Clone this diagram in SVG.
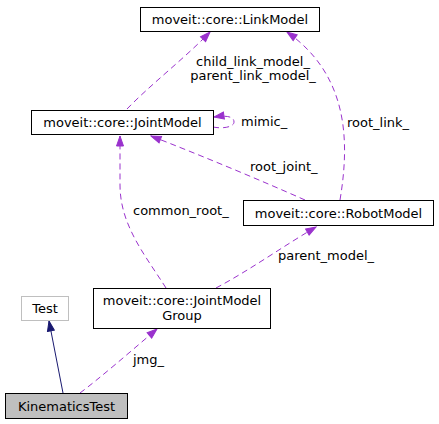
<svg xmlns="http://www.w3.org/2000/svg" width="439" height="424" viewBox="0 0 439 424">
<style>
  text { font-family: "DejaVu Sans", sans-serif; font-size: 13px; fill: #000; }
  .c { text-anchor: middle; }
  .box { fill: #fff; stroke: #000; stroke-width: 1; }
  .e { fill: none; stroke: #9a32cd; stroke-width: 1; stroke-dasharray: 6,4; }
  .inh { fill: none; stroke: #191970; stroke-width: 1; }
</style>
<defs>
  <marker id="ap" markerUnits="userSpaceOnUse" markerWidth="12" markerHeight="9" refX="11" refY="4.5" orient="auto">
    <path d="M1,1 L11,4.5 L1,8 z" fill="#9a32cd" stroke="#9a32cd" stroke-width="1"/>
  </marker>
  <marker id="an" markerUnits="userSpaceOnUse" markerWidth="12" markerHeight="9" refX="11" refY="4.5" orient="auto">
    <path d="M1,1 L11,4.5 L1,8 z" fill="#191970" stroke="#191970" stroke-width="1"/>
  </marker>
</defs>
<rect width="439" height="424" fill="#fff"/>
<g id="connectors">
  <path class="e" d="M127,109 C150,85 185,58 210,32" marker-end="url(#ap)"/>
  <text class="c" x="253" y="66">child_link_model_</text>
  <text class="c" x="253" y="80">parent_link_model_</text>
  <path class="e" d="M340,200 C350,140 348,75 287,32" marker-end="url(#ap)"/>
  <text x="347" y="127">root_link_</text>
  <path class="e" d="M213,127 C223,129 234,127 234,122 C234,117 228,115 214,117" marker-end="url(#ap)"/>
  <text x="241" y="126">mimic_</text>
  <path class="e" d="M305,200 C260,180 200,155 151,136" marker-end="url(#ap)"/>
  <text x="250" y="171">root_joint_</text>
  <path class="e" d="M166,288 C145,255 120,225 120,185 C120,165 120,148 120,136" marker-end="url(#ap)"/>
  <text x="133" y="215">common_root_</text>
  <path class="e" d="M216,288 C250,270 285,245 316,227" marker-end="url(#ap)"/>
  <text x="278" y="260">parent_model_</text>
  <path class="e" d="M80,393 C100,378 130,352 157,329" marker-end="url(#ap)"/>
  <text x="133" y="364">jmg_</text>
  <path class="inh" d="M63,393 L49,321" marker-end="url(#an)"/>
</g>
<g id="LinkModel">
  <rect class="box" x="140.5" y="7.5" width="179" height="24"/>
  <text class="c" x="230" y="24">moveit::core::LinkModel</text>
</g>
<g id="JointModel">
  <rect class="box" x="31.5" y="110.5" width="182" height="24"/>
  <text class="c" x="122.5" y="127">moveit::core::JointModel</text>
</g>
<g id="RobotModel">
  <rect class="box" x="243.5" y="200.5" width="190" height="25"/>
  <text class="c" x="338.5" y="217.5">moveit::core::RobotModel</text>
</g>
<g id="JointModelGroup">
  <rect class="box" x="93.5" y="288.5" width="177" height="40"/>
  <text class="c" x="182" y="305">moveit::core::JointModel</text>
  <text class="c" x="182" y="320">Group</text>
</g>
<g id="Test">
  <rect x="21.5" y="296.5" width="47" height="24" fill="#fff" stroke="#bfbfbf"/>
  <text class="c" x="45" y="313">Test</text>
</g>
<g id="KinematicsTest">
  <rect x="5.5" y="393.5" width="122" height="25" fill="#bfbfbf" stroke="#000"/>
  <text class="c" x="66.5" y="410.5">KinematicsTest</text>
</g>
</svg>
